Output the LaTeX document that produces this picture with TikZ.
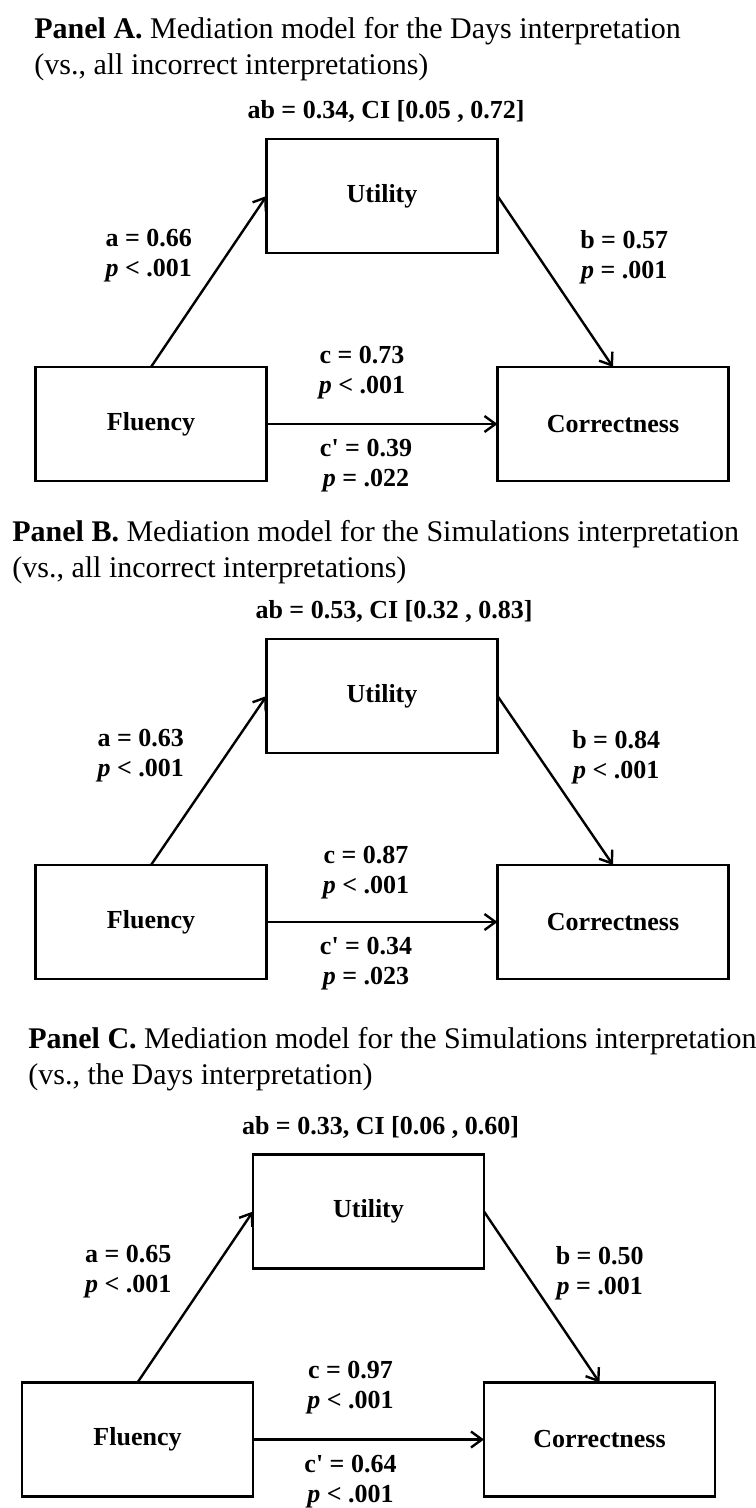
\documentclass[tikz,border=0pt]{standalone}
\usepackage{fontspec}
\setmainfont{Liberation Serif}
\usepackage{tikz}
\usetikzlibrary{arrows.meta,positioning}
\tikzstyle{varbox} = [rectangle, draw=black, line width=1.3pt, outer sep=0pt, minimum width=115.5pt, minimum height=57pt, text=black, text centered, font=\bfseries\fontsize{13}{15}\selectfont]
\tikzstyle{coef} = [draw=none, fill=none, align=center, inner sep=2pt, font=\bfseries\fontsize{13}{15}\selectfont]
\tikzstyle{paneltitle} = [draw=none, fill=none, align=left, inner sep=0pt, anchor=north west, font=\fontsize{15}{18}\selectfont]
\tikzstyle{tedge} = [draw, line width=1.2pt, -{Straight Barb[length=5.5pt,width=8pt]}]
\newcommand{\pv}{\textit{p}}

\begin{document}
\begin{tikzpicture}[x=0.5pt, y=-0.5pt]
\useasboundingbox (0,0) rectangle (755,1508);

%panel A=========================
\node[paneltitle] (tA) at (34,17) {\textbf{Panel A.} Mediation model for the Days interpretation\\(vs., all incorrect interpretations)};
\node[varbox] (uA) at (382,196) {Utility};
\node[varbox, below left=57pt and 0pt of uA] (fA) {Fluency};
\node[varbox, below right=57pt and 0pt of uA] (cA) {Correctness};
\node[coef, above=6pt of uA, xshift=2pt] (abA) {ab = 0.34, CI [0.05 , 0.72]};

% edges
\path (fA.north) edge[tedge] node[coef, pos=0.65, left=14.5pt] {a = 0.66\\\pv{} < .001} (uA.west);
\path (uA.east) edge[tedge] node[coef, pos=0.36, right=18pt] {b = 0.57\\\pv{} = .001} (cA.north);
\path (fA) edge[tedge] node[coef, above=10pt, xshift=-10pt] {c = 0.73\\\pv{} < .001}
                      node[coef, below=5pt, xshift=-8pt] {c\textquotesingle{} = 0.39\\\pv{} = .022} (cA);

%panel B=========================
\node[paneltitle] (tB) at (12,520) {\textbf{Panel B.} Mediation model for the Simulations interpretation\\(vs., all incorrect interpretations)};
\node[varbox] (uB) at (382,696) {Utility};
\node[varbox, below left=56pt and 0pt of uB] (fB) {Fluency};
\node[varbox, below right=56pt and 0pt of uB] (cB) {Correctness};
\node[coef, above=6pt of uB, xshift=6pt] (abB) {ab = 0.53, CI [0.32 , 0.83]};

% edges
\path (fB.north) edge[tedge] node[coef, pos=0.65, left=18.5pt] {a = 0.63\\\pv{} < .001} (uB.west);
\path (uB.east) edge[tedge] node[coef, pos=0.36, right=14pt] {b = 0.84\\\pv{} < .001} (cB.north);
\path (fB) edge[tedge] node[coef, above=9pt, xshift=-8pt] {c = 0.87\\\pv{} < .001}
                      node[coef, below=5pt, xshift=-8pt] {c\textquotesingle{} = 0.34\\\pv{} = .023} (cB);

%panel C=========================
\node[paneltitle] (tC) at (28,1027) {\textbf{Panel C.} Mediation model for the Simulations interpretation\\(vs., the Days interpretation)};
\node[varbox] (uC) at (368.5,1211.5) {Utility};
\node[varbox, below left=57pt and 0pt of uC] (fC) {Fluency};
\node[varbox, below right=57pt and 0pt of uC] (cC) {Correctness};
\node[coef, above=6pt of uC, xshift=6pt] (abC) {ab = 0.33, CI [0.06 , 0.60]};

% edges
\path (fC.north) edge[tedge] node[coef, pos=0.65, left=18pt] {a = 0.65\\\pv{} < .001} (uC.west);
\path (uC.east) edge[tedge] node[coef, pos=0.36, right=12.5pt] {b = 0.50\\\pv{} = .001} (cC.north);
\path (fC) edge[tedge] node[coef, above=10pt, xshift=-9pt] {c = 0.97\\\pv{} < .001}
                      node[coef, below=5pt, xshift=-9pt] {c\textquotesingle{} = 0.64\\\pv{} < .001} (cC);

\end{tikzpicture}
\end{document}
